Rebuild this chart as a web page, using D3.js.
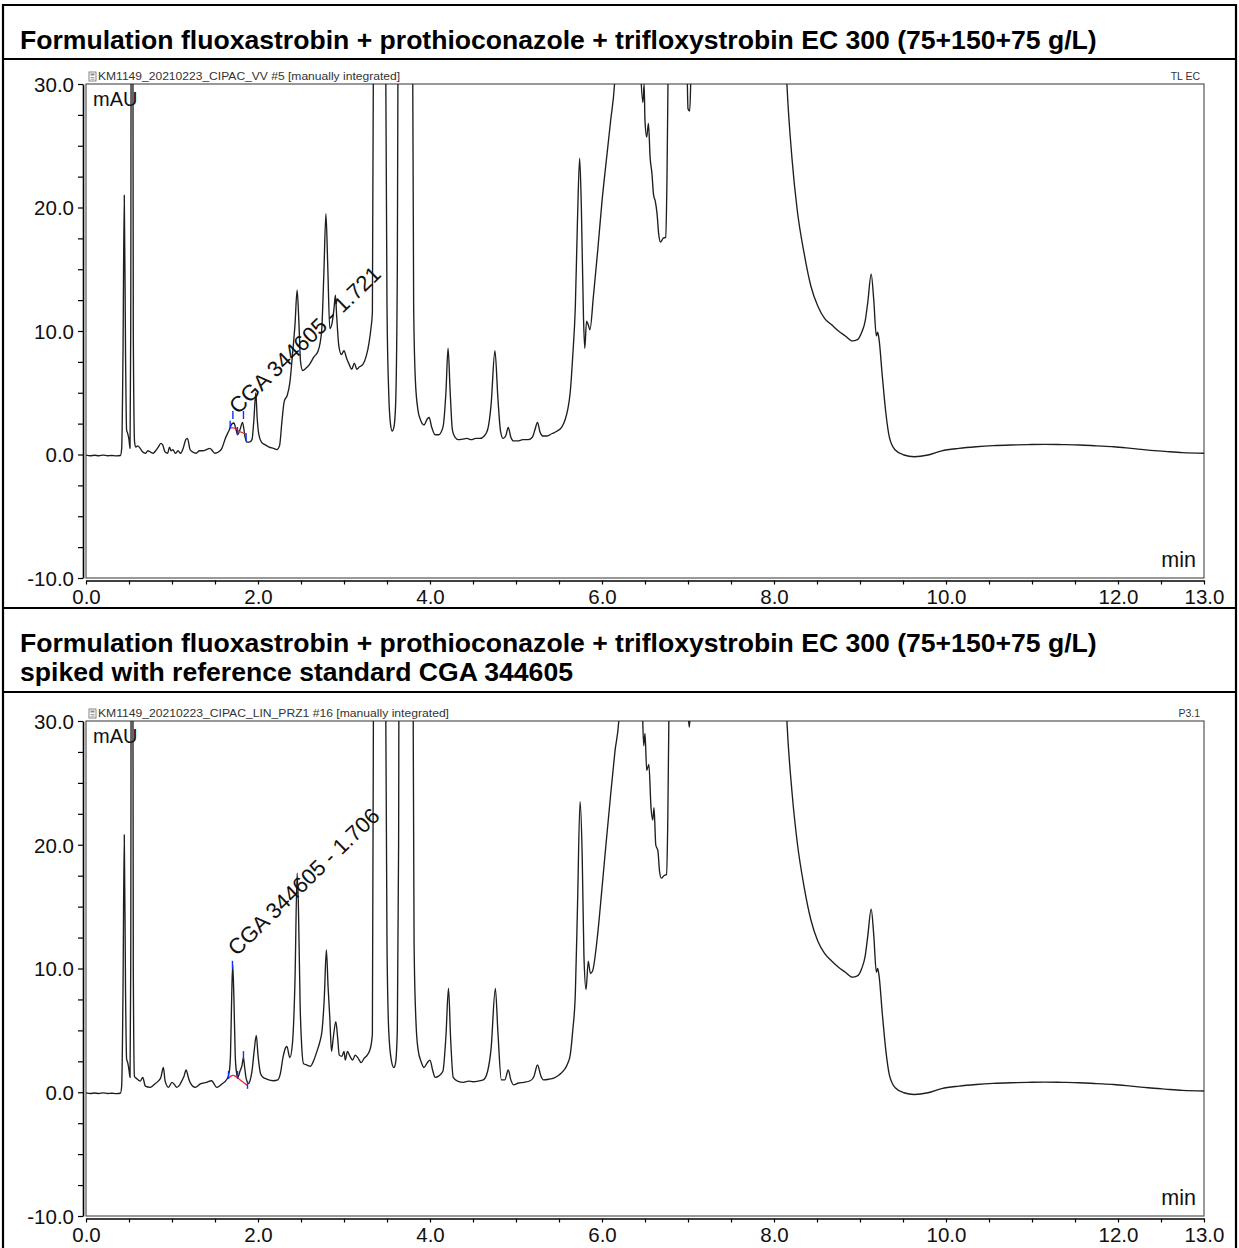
<!DOCTYPE html>
<html><head><meta charset="utf-8">
<script src="https://cdn.jsdelivr.net/npm/d3@7"></script>
<style>
html,body{margin:0;padding:0;background:#fff;}
svg{display:block;}
text{font-family:"Liberation Sans",Arial,Helvetica,sans-serif;}
</style></head><body>
<svg id="chart" width="1239" height="1248"></svg>
<script>
// ---------- texts ----------
const titleSample = ["Formulation fluoxastrobin + prothioconazole + trifloxystrobin EC 300 (75+150+75 g/L)"];
const titleSpiked = ["Formulation fluoxastrobin + prothioconazole + trifloxystrobin EC 300 (75+150+75 g/L)",
                     "spiked with reference standard CGA 344605"];
const headerSample = "KM1149_20210223_CIPAC_VV #5 [manually integrated]";
const headerSpiked = "KM1149_20210223_CIPAC_LIN_PRZ1 #16 [manually  integrated]";
const tagSample = "TL EC";
const tagSpiked = "P3.1";
const yUnit = "mAU";
const xUnit = "min";

// ---------- axes ----------
const xDomain = [0, 13];
const yDomain = [-10, 30];
const xTickValues = [0, 2, 4, 6, 8, 10, 12, 13];
const xTickLabels = ["0.0", "2.0", "4.0", "6.0", "8.0", "10.0", "12.0", "13.0"];
const yTickValues = [-10, 0, 10, 20, 30];
const yTickLabels = ["-10.0", "0.0", "10.0", "20.0", "30.0"];

// ---------- chromatogram: formulation sample (time min, signal mAU) ----------
const sampleTrace = [
 [0.00,-0.05],[0.05,-0.10],[0.10,-0.06],[0.15,-0.10],[0.20,-0.05],[0.25,-0.10],[0.30,-0.08],[0.35,-0.11],[0.40,-0.08],
 [0.415,0.5],[0.43,8],[0.445,21.0],[0.46,8],[0.472,2.0],[0.485,1.7],[0.50,1.2],[0.512,0.5],
 [0.52,10],[0.53,60],[0.54,60],[0.55,10],[0.565,1.0],[0.58,0.6],
 [0.60,0.7],[0.63,0.5],[0.66,0.2],[0.69,0.1],[0.72,0.3],[0.75,0.2],[0.78,0.1],[0.81,0.3],[0.84,0.6],[0.87,0.9],
 [0.89,0.8],[0.92,0.2],[0.95,0.1],[0.97,0.6],[0.99,0.3],[1.01,0.4],[1.04,0.1],[1.07,0.3],[1.10,0.1],[1.13,0.5],
 [1.16,1.2],[1.18,1.3],[1.21,0.4],[1.24,0.2],[1.28,0.1],[1.32,0.3],[1.36,0.3],[1.40,0.4],[1.44,0.5],[1.47,0.3],
 [1.50,0.1],[1.54,0.2],[1.58,0.5],[1.62,1.3],[1.66,1.9],[1.70,2.5],[1.72,2.55],[1.745,2.0],[1.765,1.6],[1.79,2.0],
 [1.82,2.6],[1.835,2.1],[1.85,1.4],[1.87,1.0],[1.90,1.0],[1.93,1.2],[1.95,2.6],[1.975,5.0],[1.99,3.0],[2.01,1.6],
 [2.04,1.0],[2.08,0.8],[2.13,0.6],[2.18,0.5],[2.22,0.4],[2.25,0.7],[2.28,2.8],[2.305,4.3],[2.34,4.8],[2.37,5.8],
 [2.40,8.0],[2.43,10.5],[2.455,13.3],[2.475,10.8],[2.495,7.5],[2.52,6.8],[2.56,7.0],[2.60,7.3],[2.65,7.9],[2.70,8.4],
 [2.74,10.0],[2.765,14.5],[2.79,19.5],[2.81,15.5],[2.835,10.2],[2.86,10.6],[2.885,11.9],[2.90,12.9],[2.915,11.2],
 [2.94,8.8],[2.97,8.1],[3.00,8.4],[3.03,7.8],[3.06,7.3],[3.09,6.9],[3.12,7.4],[3.15,6.9],[3.18,7.1],[3.22,7.3],
 [3.26,8.0],[3.29,9.0],[3.315,10.3],[3.33,11.5],[3.345,40],[3.36,80],[3.45,80],[3.48,40],[3.50,12],[3.52,5],
 [3.54,2.5],[3.56,1.9],[3.58,2.2],[3.60,4],[3.62,15],[3.635,50],[3.65,80],[3.77,80],[3.795,40],[3.81,12],[3.83,6],
 [3.86,3.6],[3.89,2.8],[3.93,2.4],[3.97,2.9],[3.99,3.0],[4.02,2.2],[4.06,1.6],[4.10,1.6],[4.15,2.2],[4.185,5],
 [4.21,8.6],[4.235,5],[4.26,2.0],[4.29,1.4],[4.33,1.2],[4.38,1.25],[4.43,1.3],[4.48,1.2],[4.53,1.3],[4.58,1.3],
 [4.63,1.5],[4.67,2.0],[4.71,4.0],[4.755,8.4],[4.79,4.5],[4.82,1.9],[4.85,1.3],[4.88,1.5],[4.91,2.2],[4.94,1.4],
 [4.97,1.1],[5.02,1.1],[5.08,1.2],[5.14,1.2],[5.19,1.4],[5.22,2.0],[5.25,2.6],[5.28,1.8],[5.31,1.5],[5.36,1.5],
 [5.42,1.7],[5.48,1.9],[5.53,2.2],[5.57,2.8],[5.60,3.6],[5.63,5],[5.66,8],[5.69,12],[5.715,19],[5.74,24],[5.76,20],
 [5.785,11],[5.80,8.6],[5.82,10.8],[5.84,10.5],[5.86,10.1],[5.90,12.8],[5.95,16.5],[6.00,20.5],[6.05,23.8],
 [6.10,27],[6.15,30.5],[6.20,40],[6.30,50],[6.40,45],[6.45,31],[6.475,28.5],[6.49,30],[6.50,27],[6.52,25.7],
 [6.54,26.8],[6.56,24],[6.58,22.8],[6.60,21],[6.62,20.5],[6.64,19.5],[6.66,17.8],[6.68,17.2],[6.71,17.5],
 [6.74,17.6],[6.755,22],[6.77,32],[6.80,45],[6.95,45],[6.99,31],[7.00,28],[7.02,27.8],[7.035,31],[7.10,50],
 [8.00,60],[8.12,35],[8.15,30],[8.21,23.9],[8.27,19.8],[8.35,16.3],[8.43,13.6],[8.51,12.0],[8.59,11.0],[8.67,10.5],
 [8.75,10.0],[8.83,9.6],[8.91,9.2],[8.97,9.3],[9.02,9.9],[9.06,10.8],[9.09,12.3],[9.13,14.6],[9.16,12.5],[9.19,9.6],
 [9.205,9.9],[9.22,9.4],[9.26,6.3],[9.30,3.4],[9.34,1.45],[9.41,0.36],[9.51,-0.04],[9.63,-0.18],[9.79,-0.04],
 [9.95,0.3],[10.15,0.5],[10.35,0.63],[10.55,0.72],[10.75,0.77],[10.95,0.8],[11.15,0.82],[11.35,0.8],[11.55,0.77],
 [11.75,0.7],[11.95,0.63],[12.15,0.5],[12.35,0.36],[12.55,0.25],[12.75,0.15],[13.0,0.1]
];

// ---------- chromatogram: sample spiked with CGA 344605 ----------
const spikedTrace = [
 [0.00,-0.05],[0.05,-0.10],[0.10,-0.06],[0.15,-0.10],[0.20,-0.05],[0.25,-0.10],[0.30,-0.08],[0.35,-0.11],[0.40,-0.08],
 [0.415,0.5],[0.43,8],[0.445,20.8],[0.46,8],[0.472,2.7],[0.485,2.4],[0.50,1.8],[0.512,1.2],
 [0.52,10],[0.53,60],[0.54,60],[0.55,10],[0.563,1.3],[0.59,1.1],[0.63,0.9],[0.66,1.2],[0.69,0.5],[0.745,0.4],
 [0.80,0.67],[0.84,0.9],[0.87,1.2],[0.90,2.0],[0.92,0.9],[0.96,0.4],[1.00,0.8],[1.03,0.6],[1.055,0.4],[1.09,0.6],
 [1.113,0.9],[1.14,1.3],[1.164,1.8],[1.19,1.2],[1.21,0.8],[1.27,0.4],[1.33,0.67],[1.40,0.8],[1.46,0.93],[1.52,0.4],
 [1.58,0.67],[1.64,1.07],[1.665,1.6],[1.68,3],[1.695,8],[1.706,10.3],[1.72,7.6],[1.735,3],[1.75,1.6],[1.765,1.2],
 [1.79,1.7],[1.815,2.2],[1.83,2.8],[1.845,2.0],[1.86,1.2],[1.89,0.7],[1.91,1.0],[1.93,1.7],[1.955,3.3],[1.98,4.6],
 [2.00,3.0],[2.03,1.5],[2.06,1.2],[2.10,1.07],[2.18,0.93],[2.23,1.0],[2.26,1.5],[2.29,2.8],[2.31,3.4],[2.336,3.7],
 [2.37,2.8],[2.40,3.9],[2.43,9],[2.455,17.7],[2.47,15],[2.49,7],[2.51,3.5],[2.53,2.3],[2.57,2.2],[2.61,2.1],
 [2.65,2.6],[2.685,3.3],[2.72,4.1],[2.745,5.0],[2.77,7.5],[2.795,11.5],[2.815,8.5],[2.835,6.0],[2.855,3.3],
 [2.875,4.4],[2.905,5.7],[2.925,4.5],[2.945,3.0],[2.975,2.9],[3.00,3.3],[3.015,2.6],[3.04,3.3],[3.07,2.9],
 [3.10,2.6],[3.13,3.0],[3.16,2.8],[3.20,2.4],[3.23,2.7],[3.27,3.0],[3.305,3.5],[3.33,4.7],[3.345,40],[3.36,80],
 [3.45,80],[3.48,40],[3.50,12],[3.52,5],[3.55,2.6],[3.58,2.0],[3.60,2.4],[3.62,5],[3.635,20],[3.65,80],[3.77,80],
 [3.80,40],[3.815,12],[3.835,6],[3.86,3.5],[3.90,2.4],[3.93,2.0],[3.97,2.4],[4.00,2.6],[4.03,1.8],[4.06,1.2],
 [4.10,1.3],[4.15,1.7],[4.185,4.5],[4.215,8.4],[4.24,4.3],[4.27,1.2],[4.32,0.9],[4.39,0.8],[4.45,0.9],[4.50,0.85],
 [4.56,0.9],[4.62,1.0],[4.67,1.7],[4.71,3.5],[4.76,8.4],[4.79,4.8],[4.83,1.0],[4.87,1.0],[4.91,1.8],[4.94,1.0],
 [4.97,0.6],[5.03,0.75],[5.09,0.8],[5.17,0.95],[5.21,1.3],[5.25,2.2],[5.29,1.3],[5.32,1.0],[5.38,1.05],[5.44,1.15],
 [5.50,1.4],[5.56,1.8],[5.60,2.3],[5.63,3],[5.66,5],[5.69,8],[5.715,15],[5.745,23.5],[5.77,19],[5.79,11],
 [5.815,8.3],[5.84,10.6],[5.865,9.6],[5.89,9.8],[5.95,12.8],[6.00,16.5],[6.05,20.3],[6.10,24],[6.15,27.5],
 [6.20,30.5],[6.25,40],[6.35,50],[6.44,40],[6.47,31],[6.485,28],[6.50,29],[6.52,26],[6.545,26.5],[6.57,23],
 [6.59,22],[6.605,23],[6.625,20],[6.65,19.5],[6.67,17.8],[6.69,17.3],[6.72,17.5],[6.75,17.6],[6.765,22],
 [6.78,32],[6.80,45],[6.98,45],[7.00,31],[7.015,29.5],[7.03,31],[7.10,50],
 [8.00,60],[8.12,35],[8.15,30],[8.21,24.2],[8.27,20.2],[8.35,16.6],[8.43,13.9],[8.51,12.2],[8.59,11.2],[8.67,10.6],
 [8.75,10.1],[8.83,9.7],[8.91,9.3],[8.97,9.4],[9.02,10.0],[9.06,11.0],[9.09,12.6],[9.13,14.8],[9.16,12.7],[9.19,9.7],
 [9.205,10.0],[9.22,9.5],[9.26,6.3],[9.30,3.4],[9.34,1.45],[9.41,0.36],[9.51,-0.04],[9.63,-0.18],[9.79,-0.04],
 [9.95,0.3],[10.15,0.5],[10.35,0.63],[10.55,0.72],[10.75,0.77],[10.95,0.8],[11.15,0.82],[11.35,0.8],[11.55,0.77],
 [11.75,0.7],[11.95,0.63],[12.15,0.5],[12.35,0.36],[12.55,0.25],[12.75,0.15],[13.0,0.1]
];

// ---------- manual integration marks ----------
// delimiter ticks [time, signal]
const sampleTicks = [[1.676,2.4],[1.708,3.2],[1.761,1.9],[1.831,3.2],[1.862,1.4]];
const spikedTicks = [[1.657,1.4],[1.703,10.3],[1.762,1.4],[1.831,3.0],[1.878,0.6]];
// drawn baselines
const sampleBaselines = [[[1.676,2.17],[1.761,2.12]], [[1.761,1.93],[1.862,1.64]]];
const spikedBaselines = [[[1.657,1.15],[1.685,1.32],[1.71,1.38],[1.735,1.32],[1.762,1.15],[1.80,0.95],[1.84,0.75],[1.876,0.55]]];
// peak labels: text, apex time, apex signal
const sampleLabel = {text: "CGA 344605 - 1.721", rt: 1.72, top: 2.55};
const spikedLabel = {text: "CGA 344605 - 1.706", rt: 1.706, top: 10.3};

// ---------- drawing ----------
const svg = d3.select("#chart");
const W = 1239, H = 1248;
const FONT = '"Liberation Sans",Arial,Helvetica,sans-serif';

// table frame
const frame = svg.append("g").attr("stroke", "#000").attr("stroke-width", 2.2);
[[3, 5, 1236, 5], [3, 59, 1236, 59], [3, 608, 1236, 608], [3, 692, 1236, 692],
 [3, 4, 3, H], [1236, 4, 1236, H]].forEach(l =>
  frame.append("line").attr("x1", l[0]).attr("y1", l[1]).attr("x2", l[2]).attr("y2", l[3]));

// fit the bold title to its column width
const probe = svg.append("text").style("font", `bold 20px ${FONT}`).text(titleSample[0]);
const titleSize = 20 * 1077 / probe.node().getComputedTextLength();
probe.remove();

function titleBlock(lines, y0) {
  svg.append("g").selectAll("text").data(lines).join("text")
    .attr("x", 20).attr("y", (d, i) => y0 + i * 29)
    .style("font", `bold ${titleSize}px ${FONT}`).attr("fill", "#000")
    .text(d => d);
}
titleBlock(titleSample, 49);
titleBlock(titleSpiked, 652);

function panel(cfg) {
  const x = d3.scaleLinear().domain(xDomain).range([86, 1204]);
  const y = d3.scaleLinear().domain(yDomain).range([cfg.bottom, cfg.top]);
  const g = svg.append("g");

  // plot frame
  g.append("rect").attr("x", x(0)).attr("y", y(30)).attr("width", x(13) - x(0)).attr("height", y(-10) - y(30))
    .attr("fill", "none").attr("stroke", "#555").attr("stroke-width", 1.2);

  // y axis, set slightly apart from the frame
  const yAxis = d3.axisLeft(y).tickValues(d3.range(-10, 30.01, 2.5)).tickSize(5).tickSizeOuter(0).tickPadding(4)
    .tickFormat(v => { const i = yTickValues.indexOf(v); return i < 0 ? "" : yTickLabels[i]; });
  const ya = g.append("g").attr("transform", `translate(${x(0) - 3},0)`).call(yAxis);
  ya.select(".domain").attr("stroke", "#000").attr("stroke-width", 1.6);
  ya.selectAll(".tick line").attr("stroke", "#000").attr("stroke-width", 1.2);
  ya.selectAll(".tick text").style("font", `20.5px ${FONT}`).attr("fill", "#111").attr("dy", "0.36em");

  // x axis
  const xAxis = d3.axisBottom(x).tickValues(d3.range(0, 13.01, 0.5)).tickSize(4).tickSizeOuter(0).tickPadding(5)
    .tickFormat(v => { const i = xTickValues.indexOf(v); return i < 0 ? "" : xTickLabels[i]; });
  const xa = g.append("g").attr("transform", `translate(0,${y(-10) + 2.5})`).call(xAxis);
  xa.select(".domain").attr("stroke", "#000").attr("stroke-width", 1.6);
  xa.selectAll(".tick line").attr("stroke", "#000").attr("stroke-width", 1.2);
  xa.selectAll(".tick text").style("font", `20.5px ${FONT}`).attr("fill", "#111");

  // run header and tag
  const icon = g.append("g").attr("transform", `translate(89,${y(30) - 12})`);
  icon.append("rect").attr("width", 7).attr("height", 9).attr("fill", "#fff").attr("stroke", "#666").attr("stroke-width", 0.8);
  icon.append("rect").attr("x", 1.5).attr("y", 1.5).attr("width", 4).attr("height", 2).attr("fill", "#888");
  icon.append("path").attr("d", "M1.5,5.5h4M1.5,7.2h4").attr("stroke", "#888").attr("stroke-width", 0.8);
  g.append("text").attr("x", 98).attr("y", y(30) - 4).style("font", `11px ${FONT}`).attr("fill", "#333")
    .attr("textLength", cfg.headerWidth).attr("lengthAdjust", "spacingAndGlyphs")
    .text(cfg.header);
  g.append("text").attr("x", 1200).attr("y", y(30) - 4).attr("text-anchor", "end")
    .style("font", `10.5px ${FONT}`).attr("fill", "#333").text(cfg.tag);

  // unit labels
  g.append("text").attr("x", 93).attr("y", y(30) + 22).style("font", `20px ${FONT}`).attr("fill", "#111").text(yUnit);
  g.append("text").attr("x", 1196).attr("y", y(-10) - 11).attr("text-anchor", "end")
    .style("font", `21.5px ${FONT}`).attr("fill", "#111").text(xUnit);

  // chromatogram, clipped to the plot frame
  const clipId = "clip" + cfg.id;
  svg.append("clipPath").attr("id", clipId).append("rect")
    .attr("x", x(0)).attr("y", y(30)).attr("width", x(13) - x(0)).attr("height", y(-10) - y(30));
  const plot = g.append("g").attr("clip-path", `url(#${clipId})`);
  const line = d3.line().x(d => x(d[0])).y(d => y(d[1])).curve(d3.curveMonotoneX);
  plot.append("path").datum(cfg.trace).attr("d", line)
    .attr("fill", "none").attr("stroke", "#1e1e1e").attr("stroke-width", 1.35).attr("stroke-linejoin", "round");

  // integration baselines and delimiters
  const bl = d3.line().x(d => x(d[0])).y(d => y(d[1])).curve(d3.curveBasis);
  plot.selectAll(".bl").data(cfg.baselines).join("path").attr("d", bl)
    .attr("fill", "none").attr("stroke", "#ff2020").attr("stroke-width", 1.3);
  plot.selectAll(".tk").data(cfg.ticks).join("line")
    .attr("x1", d => x(d[0])).attr("x2", d => x(d[0]))
    .attr("y1", d => y(d[1]) - 4).attr("y2", d => y(d[1]) + 4)
    .attr("stroke", "#1030ff").attr("stroke-width", 1.4);

  // rotated peak label
  const lx = x(cfg.label.rt) + 4, ly = y(cfg.label.top) - 8;
  g.append("text").attr("transform", `translate(${lx},${ly}) rotate(-44)`)
    .style("font", `22px ${FONT}`).attr("fill", "#111").text(cfg.label.text);
}

panel({id: "A", top: 84, bottom: 578, trace: sampleTrace, ticks: sampleTicks, baselines: sampleBaselines,
       label: sampleLabel, header: headerSample, headerWidth: 302, tag: tagSample});
panel({id: "B", top: 721, bottom: 1216, trace: spikedTrace, ticks: spikedTicks, baselines: spikedBaselines,
       label: spikedLabel, header: headerSpiked, headerWidth: 351, tag: tagSpiked});
</script>
</body></html>
